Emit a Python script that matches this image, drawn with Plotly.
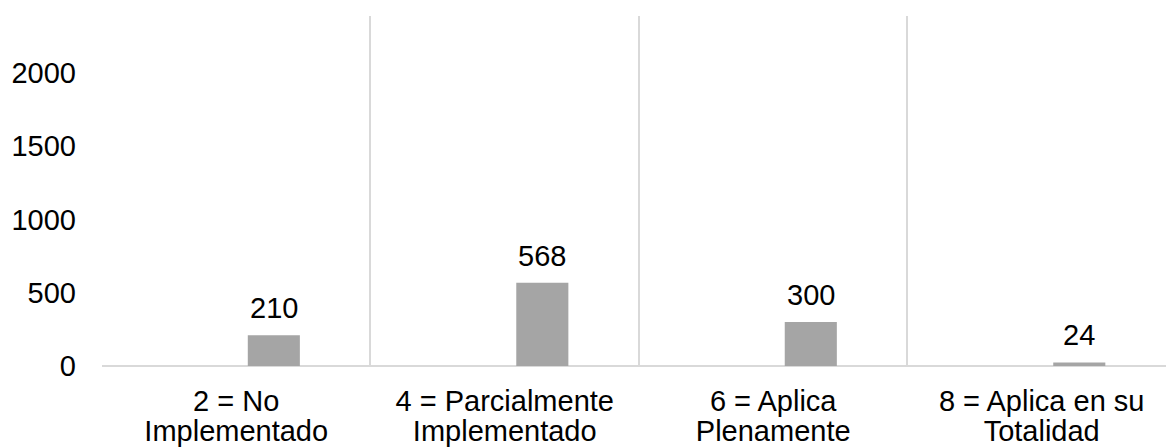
import plotly.graph_objects as go

categories_line1 = ["2 = No", "4 = Parcialmente", "6 = Aplica", "8 = Aplica en su"]
categories_line2 = ["Implementado", "Implementado", "Plenamente", "Totalidad"]
values = [210, 568, 300, 24]
y_ticks = [0, 500, 1000, 1500, 2000]

FONT = "Liberation Sans, Arial, sans-serif"
BAR_W = 0.194
BAR_OFF = 0.043
X_RANGE = [-0.5, 3.463]
positions = list(range(len(values)))

fig = go.Figure()
fig.add_trace(go.Bar(
    x=positions, y=values,
    marker=dict(color="#A5A5A5", line=dict(width=0)),
    width=BAR_W, offset=BAR_OFF,
    hovertext=[a + " " + b for a, b in zip(categories_line1, categories_line2)],
    hoverinfo="text+y",
))
# invisible carrier trace so the second-line label axis is drawn
fig.add_trace(go.Scatter(
    x=positions, y=values, xaxis="x2", yaxis="y",
    mode="markers", marker=dict(opacity=0, size=1),
    hoverinfo="skip", showlegend=False,
))

# data labels above each bar (bar sits right of category center)
for p, v in zip(positions, values):
    fig.add_annotation(
        x=p + BAR_OFF + BAR_W / 2, y=v, xref="x", yref="y",
        text=str(v), showarrow=False,
        yanchor="bottom", yshift=9,
        font=dict(family=FONT, size=29, color="#000000"),
    )

fig.update_layout(
    width=1166, height=447,
    margin=dict(l=102, r=0, t=16, b=81, autoexpand=False),
    paper_bgcolor="white", plot_bgcolor="white",
    showlegend=False,
    font=dict(family=FONT, size=29, color="#000000"),
    xaxis=dict(
        range=X_RANGE,
        tickvals=positions, ticktext=categories_line1,
        showgrid=False, ticks="", showline=False, zeroline=False,
        ticklabelstandoff=15, automargin=False,
        minor=dict(tickvals=[p - 0.5 for p in positions] + [positions[-1] + 0.5],
                   showgrid=True, gridcolor="#D9D9D9", gridwidth=1.5, ticks=""),
        tickfont=dict(family=FONT, size=29, color="#000000"),
    ),
    xaxis2=dict(
        range=X_RANGE, overlaying="x", side="bottom", anchor="y",
        tickvals=positions, ticktext=categories_line2,
        showgrid=False, ticks="", showline=False, zeroline=False,
        ticklabelstandoff=45, automargin=False,
        tickfont=dict(family=FONT, size=29, color="#000000"),
    ),
    yaxis=dict(
        range=[0, 2389],
        tickvals=y_ticks,
        showgrid=False, zeroline=True, zerolinecolor="#D9D9D9", zerolinewidth=2,
        showline=False, ticks="", automargin=False,
        ticklabelstandoff=25,
        tickfont=dict(family=FONT, size=29, color="#000000"),
    ),
)

fig.write_html("out.html")
